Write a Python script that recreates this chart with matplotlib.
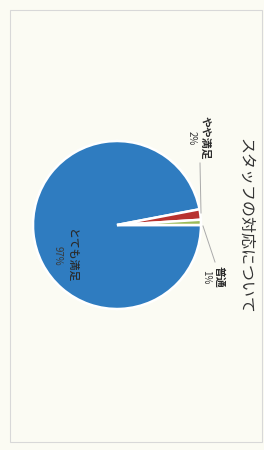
import matplotlib.pyplot as plt
from matplotlib.patches import Rectangle

plt.rcParams['font.family'] = ['Noto Sans CJK JP', 'DejaVu Sans']

# data
title = 'スタッフの対応について'
categories = ['とても満足', 'やや満足', '普通']
values = [97, 2, 1]
colors = ['#2f7cc0', '#b8322f', '#9bbb59']

W, H = 264, 450
fig = plt.figure(figsize=(W / 100, H / 100), dpi=100)
fig.patch.set_facecolor('#fbfbf3')
ax = fig.add_axes([0, 0, 1, 1])

# chart frame
ax.add_patch(Rectangle((10, 8), 252, 432, fill=False, ec='#d8d8d8', lw=0.8))

# pie, scanned page is turned a quarter clockwise so 12 o'clock sits on the right
cx, cy, r = 117, 225, 84
wedges, _ = ax.pie(values, colors=colors, startangle=0, counterclock=False,
                   center=(cx, cy), radius=r, frame=True,
                   wedgeprops=dict(edgecolor='white', linewidth=1.8))
ax.set_xlim(0, W)
ax.set_ylim(0, H)
ax.set_aspect('equal')
ax.axis('off')

# label positions: (x of name column, y centre), pct column sits to the left
pos = [(71, H - 256), (205, H - 138), (219, H - 277)]
weights = ['medium', 'bold', 'bold']
for (x, y), c, v, w in zip(pos, categories, values, weights):
    ax.text(x, y, c, rotation=-90, fontsize=7.8, fontweight=w,
            color='#2a2a2a', ha='center', va='center')
    ax.text(x - 13, y, f'{v}%', rotation=-90, fontsize=7, color='#3a3a3a',
            ha='center', va='center')

# leader lines
ax.plot([200, 201], [H - 163, H - 213], color='#aaaaaa', lw=0.7)
ax.plot([203, 215], [H - 226, H - 262], color='#aaaaaa', lw=0.7)

ax.text(245, H - 226, title, rotation=-90, fontsize=11.5, color='#333333',
        ha='center', va='center')

fig.savefig('out.png', dpi=100, facecolor=fig.get_facecolor())
